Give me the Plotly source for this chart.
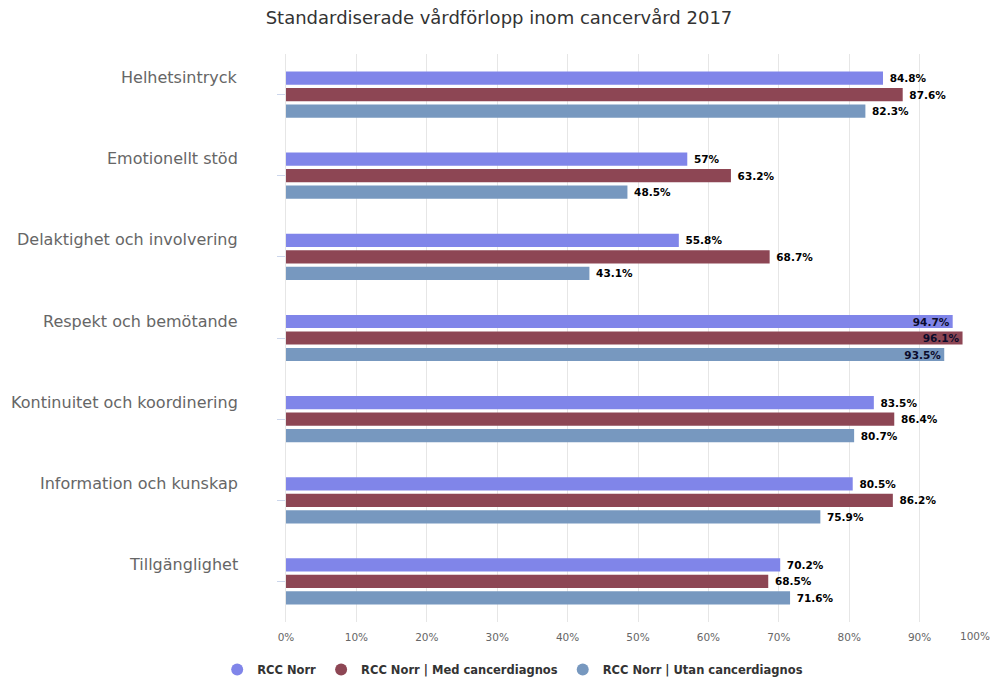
import plotly.graph_objects as go

categories = ["Helhetsintryck", "Emotionellt stöd", "Delaktighet och involvering",
              "Respekt och bemötande", "Kontinuitet och koordinering",
              "Information och kunskap", "Tillgänglighet"]
series_names = ["RCC Norr", "RCC Norr | Med cancerdiagnos", "RCC Norr | Utan cancerdiagnos"]
rcc_norr = [84.8, 57, 55.8, 94.7, 83.5, 80.5, 70.2]
med_cancer = [87.6, 63.2, 68.7, 96.1, 86.4, 86.2, 68.5]
utan_cancer = [82.3, 48.5, 43.1, 93.5, 80.7, 75.9, 71.6]
x_ticks = [0, 10, 20, 30, 40, 50, 60, 70, 80, 90, 100]
x_tick_labels = [f"{t}%" for t in x_ticks]

colors = ["#8085e9", "#8d4654", "#7798BF"]
FONT = "DejaVu Sans"
TICKFONT = dict(family=FONT, size=10.5, color="#666666")

# the last tick label is drawn right-aligned at the plot edge (as in the original)
tick_text = list(x_tick_labels)
tick_text[-1] = ""

fig = go.Figure()
for name, vals, col in zip(series_names, [rcc_norr, med_cancer, utan_cancer], colors):
    positions = ["inside" if v > 92 else "outside" for v in vals]
    fig.add_trace(go.Bar(
        y=categories, x=vals, name=name, orientation="h",
        marker=dict(color=col, line=dict(width=0)),
        texttemplate=" %{x}%", textposition=positions,
        insidetextanchor="end",
        textfont=dict(family=FONT, size=10.5, color="#000000", weight="bold"),
        insidetextfont=dict(family=FONT, size=10.5, color="#0b0b2a", weight="bold"),
        outsidetextfont=dict(family=FONT, size=10.5, color="#000000", weight="bold"),
        cliponaxis=False, showlegend=False, hoverinfo="skip",
    ))
    # legend proxy with circle marker
    fig.add_trace(go.Scatter(
        x=[None], y=[None], mode="markers", name=name,
        marker=dict(symbol="circle", size=12, color=col),
        showlegend=True,
    ))

for c in categories:
    fig.add_annotation(
        x=0, xref="paper", y=c, yref="y", text=c, showarrow=False,
        xanchor="right", yanchor="middle", xshift=-46, yshift=17,
        font=dict(family=FONT, size=16, color="#666666"),
    )

fig.add_annotation(
    x=x_ticks[-1], xref="x", y=0, yref="paper", text=x_tick_labels[-1],
    showarrow=False, xanchor="right", yanchor="middle", yshift=-14, xshift=2,
    font=TICKFONT,
)

fig.update_layout(
    width=984, height=684,
    paper_bgcolor="white", plot_bgcolor="white",
    margin=dict(l=278, r=2, t=46, b=70),
    barmode="group", bargap=0.39, bargroupgap=0.2,
    uniformtext=dict(mode="show", minsize=10.5),
    title=dict(text="Standardiserade vårdförlopp inom cancervård 2017",
               x=0.499, xanchor="center", y=0.986, yanchor="middle",
               font=dict(family=FONT, size=18, color="#333333")),
    legend=dict(orientation="h", x=0.322, xanchor="center",
                y=-0.058, yanchor="top",
                font=dict(family=FONT, size=11.5, color="#333333", weight="bold"),
                itemsizing="constant", traceorder="normal", itemwidth=30),
    xaxis=dict(range=[0, 100], tickvals=x_ticks, ticktext=tick_text,
               tickangle=0, ticks="outside", ticklen=5,
               tickcolor="rgba(0,0,0,0)",
               showgrid=True, gridcolor="#e6e6e6", gridwidth=1,
               zeroline=False, showline=False,
               tickfont=TICKFONT),
    yaxis=dict(categoryorder="array", categoryarray=categories,
               autorange="reversed", showticklabels=False,
               ticks="outside", ticklen=8, tickcolor="#ccd6eb",
               showline=True, linecolor="#e6e6e6", showgrid=False, zeroline=False),
    font=dict(family=FONT),
)

fig.write_html("out.html")
